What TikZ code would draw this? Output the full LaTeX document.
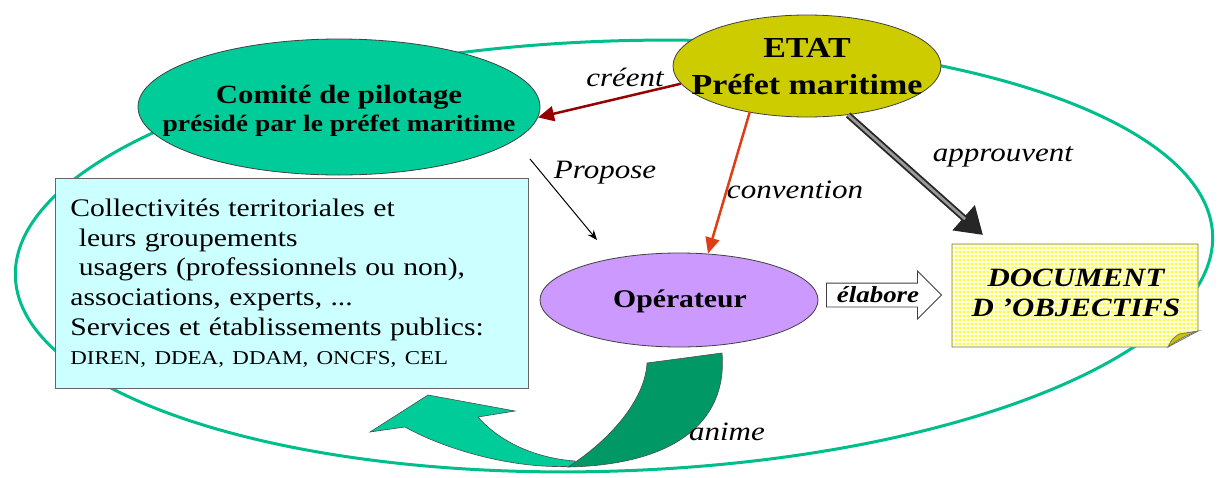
\documentclass[tikz,border=0pt]{standalone}
\usepackage{fontspec}
\setmainfont{Liberation Serif}[FakeStretch=1.17]
\usetikzlibrary{shapes.geometric,shapes.arrows,arrows.meta}
\definecolor{ringc}{RGB}{0,190,140}
\definecolor{comitec}{RGB}{0,204,153}
\definecolor{etatc}{RGB}{204,204,0}
\definecolor{operc}{RGB}{204,153,255}
\definecolor{boxc}{RGB}{204,255,255}
\definecolor{docc}{RGB}{255,255,40}
\definecolor{gridc}{RGB}{255,255,215}
\definecolor{foldc}{RGB}{205,195,0}
\definecolor{creentc}{RGB}{150,0,0}
\definecolor{convc}{RGB}{222,62,20}
\definecolor{lightg}{RGB}{0,204,153}
\definecolor{darkg}{RGB}{0,153,102}
\begin{document}
\begin{tikzpicture}[x=1pt,y=-1pt,
  oval/.style={ellipse, draw=black!75, line width=0.8pt, inner sep=0pt},
  ovaltext/.style={inner sep=0pt, align=center, font=\bfseries},
  lab/.style={font=\itshape\fontsize{26.5}{28}\selectfont, inner sep=0pt},
  edgeline/.style={draw=black!75, line width=0.8pt},
  gridline/.style={gridc, line width=1.2pt}]
\useasboundingbox (0,0) rectangle (1225,477);
% outer ring
\draw[ringc, line width=3pt, rotate around={2:(614,256)}] (614,256) ellipse [x radius=599, y radius=215];
% ellipses
\node[oval, fill=comitec, minimum width=402pt, minimum height=136pt] (comite) at (339,107) {};
\node[ovaltext] (comitet) at (339,111)
  {{\fontsize{26.3}{26}\selectfont Comité de pilotage}\\[4pt]{\fontsize{23.5}{26}\selectfont présidé par le préfet maritime}};
\node[oval, fill=etatc, minimum width=268pt, minimum height=102pt] (etat) at (807,66) {};
\node[ovaltext, font=\bfseries\fontsize{29}{37}\selectfont] (etatt) at (807,67) {ETAT\\Préfet maritime};
\node[oval, fill=operc, minimum width=278pt, minimum height=94pt] (oper) at (679,300) {};
\node[ovaltext, font=\bfseries\fontsize{25.4}{28}\selectfont] (opert) at (680,301) {Opérateur};
% box
\node[draw=black!60, line width=0.8pt, fill=boxc, anchor=north west, text width=443pt, inner xsep=15pt,
  minimum height=210pt, align=left, font=\fontsize{25.3}{29.6}\selectfont] (acteurs) at (55,178)
  {Collectivités territoriales et\\
  \ leurs groupements\\
  \ usagers (professionnels ou non),\\
  associations, experts, ...\\
  Services et établissements publics:\\
  {\fontsize{19.6}{29.6}\selectfont DIREN, DDEA, DDAM, ONCFS, CEL}};
% document
\path[fill=docc] (952,244) -- (1198,244) -- (1198,331) -- (1168,347) -- (952,347) -- cycle;
\begin{scope}
  \clip (952,244) -- (1198,244) -- (1198,331) -- (1168,347) -- (952,347) -- cycle;
  \foreach \gx in {954,958,...,1198} {\draw[gridline] (\gx,240) -- (\gx,350);}
  \foreach \gy in {246,250,...,347} {\draw[gridline] (948,\gy) -- (1200,\gy);}
\end{scope}
\draw[edgeline, draw=black!55] (952,244) -- (1198,244) -- (1198,331) -- (1168,347) -- (952,347) -- cycle;
\draw[edgeline, draw=black!55, fill=foldc] (1168,347) .. controls (1172,339) .. (1179,334) -- (1198,331) .. controls (1190,334) and (1180,338) .. (1168,347) -- cycle;
\node[font=\bfseries\itshape\fontsize{26.4}{30}\selectfont, align=center, inner sep=0pt] (doc) at (1076,293)
  {DOCUMENT\\D 'OBJECTIFS};
% élabore block arrow
\node[single arrow, draw=black!75, line width=0.8pt, fill=white, single arrow head extend=12pt,
  minimum height=115pt, text height=17pt, text depth=2pt, inner ysep=2pt, inner xsep=3pt,
  font=\bfseries\itshape\fontsize{23}{24}\selectfont] (elab) at (878,295) {élabore};
% connectors
\coordinate (propA) at (530,159);
\coordinate (propB) at (597,240);
\coordinate (apprEnd) at (983,235);
\draw[creentc, line width=2.5pt, -{Triangle[length=16pt,width=15pt]}] (etat.188) -- (comite.-3);
\draw[black, line width=1pt, -{Stealth[length=10pt,width=8pt]}] (propA) -- (propB);
\draw[convc, line width=2.5pt, -{Triangle[length=16pt,width=14pt]}] (etat.219) -- (oper.58);
\draw[black!85, line width=6.5pt, -{Triangle[length=26pt,width=32pt]}] (etat.-50) -- (apprEnd);
\draw[black!40, line width=2.8pt, shorten >=24pt] (etat.-50) -- (apprEnd);
% anime curved arrow
\draw[black!70, line width=0.6pt, fill=lightg] (575,466) .. controls (520,470) and (450,452) .. (405,427)
  -- (370,432) -- (428,395) -- (515,411) -- (478,417) .. controls (500,442) and (535,458) .. (575,461) -- cycle;
\draw[black!70, line width=0.6pt, fill=darkg] (647,363) -- (722,353) .. controls (728,425) and (670,465) .. (568,467)
  .. controls (610,440) and (645,400) .. (647,363) -- cycle;
% labels
\node[lab] (lcreent) at (625,77) {créent};
\node[lab] (lprop) at (605,173) {Propose};
\node[lab] (lconv) at (795,190) {convention};
\node[lab] (lappr) at (1003,157) {approuvent};
\node[lab] (lanime) at (727,432) {anime};
\end{tikzpicture}
\end{document}
